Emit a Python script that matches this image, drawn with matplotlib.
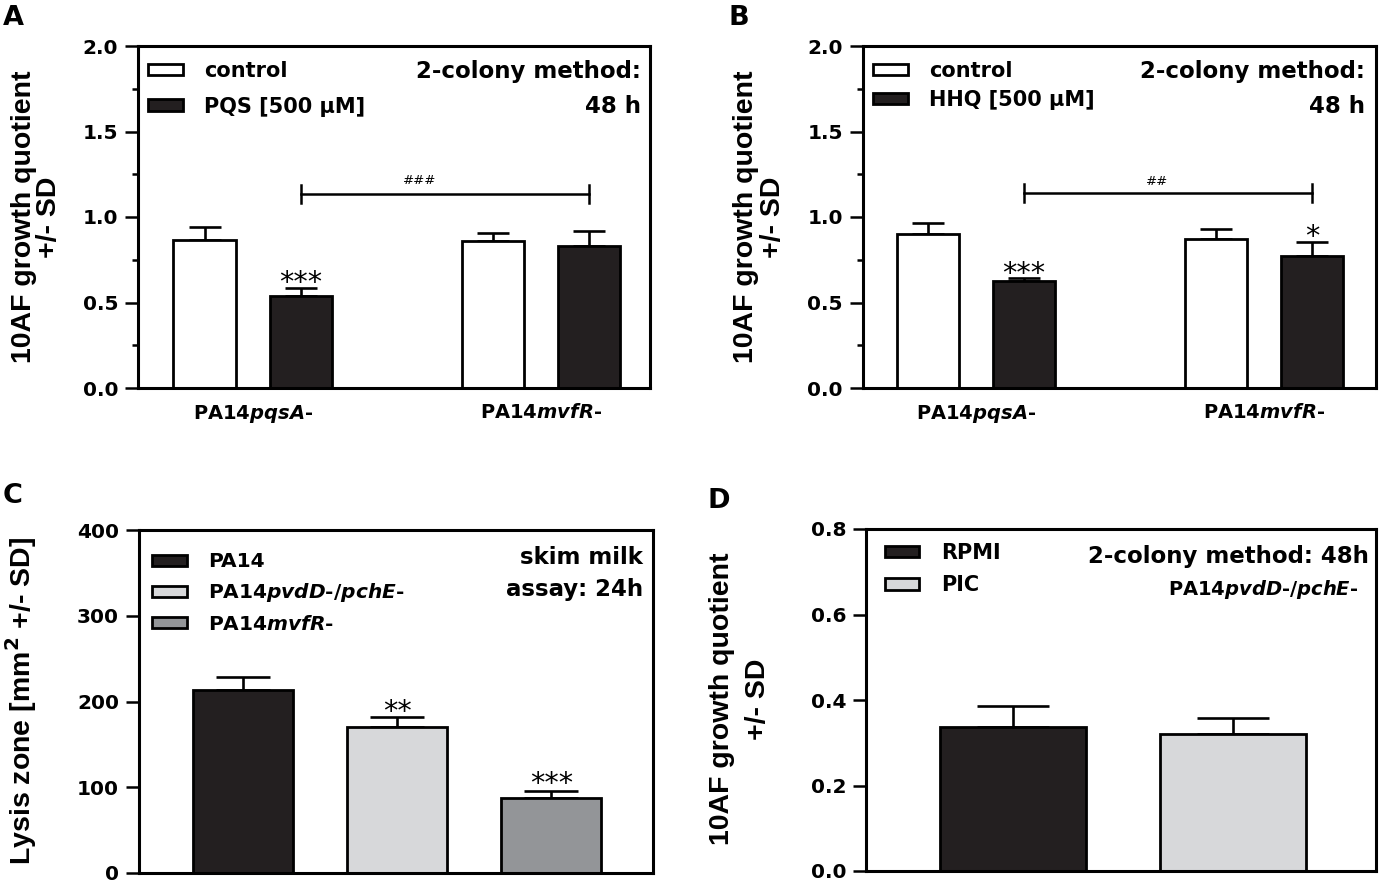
import numpy as np
import matplotlib
matplotlib.use("Agg")
import matplotlib.pyplot as plt
from matplotlib.patches import Patch
from matplotlib.ticker import MultipleLocator, FormatStrFormatter

# --- data ---
ab_groups = ["PA14$\\mathit{pqsA}$-", "PA14$\\mathit{mvfR}$-"]

a_control = [0.865, 0.860]
a_control_sd = [0.075, 0.048]
a_pqs = [0.538, 0.833]
a_pqs_sd = [0.049, 0.083]

b_control = [0.899, 0.871]
b_control_sd = [0.064, 0.059]
b_hhq = [0.627, 0.774]
b_hhq_sd = [0.014, 0.080]

c_strains = ["PA14", "PA14$\\mathit{pvdD}$-/$\\mathit{pchE}$-", "PA14$\\mathit{mvfR}$-"]
c_lysis = [213.5, 170.0, 87.2]
c_lysis_sd = [14.5, 12.4, 8.8]

d_media = ["RPMI", "PIC"]
d_quot = [0.336, 0.320]
d_quot_sd = [0.050, 0.037]

BLACK = "#231f20"
LIGHT = "#d7d8da"
DARK = "#939598"

plt.rcParams.update({
    "font.family": ["DejaVu Sans"],
    "font.weight": "bold",
    "mathtext.fontset": "custom",
    "mathtext.rm": "DejaVu Sans:bold",
    "mathtext.bf": "DejaVu Sans:bold",
    "mathtext.it": "DejaVu Sans:italic:bold",
    "axes.linewidth": 2.2,
})

W, H = 1382, 883
fig = plt.figure(figsize=(W / 100, H / 100), dpi=100)


def P(x, y):
    return x / W, 1 - y / H


def make_axes(l, r, t, b):
    ax = fig.add_axes([l / W, 1 - b / H, (r - l) / W, (b - t) / H])
    ax.tick_params(axis="y", which="major", length=9.4, width=1.8, pad=5, labelsize=14.5)
    ax.tick_params(axis="y", which="minor", length=4.3, width=1.8)
    ax.tick_params(axis="x", length=0)
    return ax


def ylabel(lines, xs, yc):
    for s, x in zip(lines, xs):
        fig.text(*P(x, yc), s, rotation=90, rotation_mode="anchor", ha="center",
                 va="baseline", family="Liberation Sans", weight="bold", size=20.5)


def stars(ax, x, top, s):
    ax.annotate(s, xy=(x, top), xytext=(0, -2.5), textcoords="offset points",
                ha="center", va="baseline", fontsize=20.5, fontweight="normal")


def bracket(ax, x0, x1, y, dlo, dhi, label, lx, ly):
    ax.plot([x0, x1], [y, y], color="k", lw=1.8)
    for xx in (x0, x1):
        ax.plot([xx, xx], [y - dlo, y + dhi], color="k", lw=1.8)
    ax.text(lx, ly, label, ha="center", va="center", fontsize=9.5, fontweight="normal")


def legend(ax, colors, labels, x, y, size, hl, spacing, pad):
    handles = [Patch(facecolor=c, edgecolor="k", linewidth=2) for c in colors]
    ax.legend(handles, labels, loc="upper left", bbox_to_anchor=(x, y), frameon=False,
              handlelength=hl, handleheight=0.48, handletextpad=pad, labelspacing=spacing,
              borderaxespad=0, borderpad=0, prop={"size": size, "weight": "bold"})


def grouped(ax, ctrl, ctrl_sd, treat, treat_sd):
    x = np.arange(len(ctrl))
    off, w = 0.167, 0.217
    ax.bar(x - off, ctrl, w, color="white", edgecolor="k", linewidth=2, zorder=2)
    ax.bar(x + off, treat, w, color=BLACK, edgecolor="k", linewidth=2, zorder=2)
    for xs, m, sd in ((x - off, ctrl, ctrl_sd), (x + off, treat, treat_sd)):
        ax.errorbar(xs, m, yerr=[np.zeros(len(m)), sd], fmt="none", ecolor="k",
                    elinewidth=1.9, capsize=11.5, capthick=1.9, zorder=1)
    ax.set_ylim(0, 2.0)
    ax.yaxis.set_major_locator(MultipleLocator(0.5))
    ax.yaxis.set_minor_locator(MultipleLocator(0.25))
    ax.yaxis.set_major_formatter(FormatStrFormatter("%.1f"))
    ax.set_xticks(x)
    ax.set_xticklabels(ab_groups, fontsize=14)
    ax.tick_params(axis="x", pad=11)
    return x, off


# ---------------- A ----------------
axA = make_axes(138, 650, 46, 388)
axA.set_xlim(-0.398, 1.378)
x, off = grouped(axA, a_control, a_control_sd, a_pqs, a_pqs_sd)
stars(axA, x[0] + off, a_pqs[0] + a_pqs_sd[0], "***")
bracket(axA, x[0] + off, x[1] + off, 1.134, 0.054, 0.053, "###", 0.578, 1.216)
legend(axA, ["white", BLACK], ["control", "PQS [500 µM]"], 0.0195, 0.956, 15, 1.7, 0.745, 1.0)
fig.text(*P(641, 78), "2-colony method:", ha="right", va="baseline", size=16.5)
fig.text(*P(641, 113), "48 h", ha="right", va="baseline", size=16.5)
ylabel(["10AF growth quotient", "+/- SD"], [31, 56], 217)
fig.text(*P(3, 25), "A", ha="left", va="baseline", size=19.5)

# ---------------- B ----------------
axB = make_axes(863, 1376, 46, 388)
axB.set_xlim(-0.392, 1.389)
x, off = grouped(axB, b_control, b_control_sd, b_hhq, b_hhq_sd)
stars(axB, x[0] + off, b_hhq[0] + b_hhq_sd[0], "***")
stars(axB, x[1] + off, b_hhq[1] + b_hhq_sd[1], "*")
bracket(axB, x[0] + off, x[1] + off, 1.139, 0.054, 0.053, "##", 0.628, 1.21)
legend(axB, ["white", BLACK], ["control", "HHQ [500 µM]"], 0.0195, 0.956, 15, 1.7, 0.43, 1.0)
fig.text(*P(1365, 78), "2-colony method:", ha="right", va="baseline", size=16.5)
fig.text(*P(1365, 113), "48 h", ha="right", va="baseline", size=16.5)
ylabel(["10AF growth quotient", "+/- SD"], [753, 780], 217)
fig.text(*P(728, 25), "B", ha="left", va="baseline", size=19.5)

# ---------------- C ----------------
axC = make_axes(139, 653, 530, 873)
xc = np.arange(len(c_lysis))
axC.bar(xc, c_lysis, 0.65, color=[BLACK, LIGHT, DARK], edgecolor="k", linewidth=2, zorder=2)
axC.errorbar(xc, c_lysis, yerr=[np.zeros(3), c_lysis_sd], fmt="none", ecolor="k",
             elinewidth=1.9, capsize=19.5, capthick=1.9, zorder=1)
axC.set_xlim(-0.675, 2.66)
axC.set_ylim(0, 400)
axC.yaxis.set_major_locator(MultipleLocator(100))
axC.set_xticks([])
stars(axC, xc[1], c_lysis[1] + c_lysis_sd[1], "**")
stars(axC, xc[2], c_lysis[2] + c_lysis_sd[2] + 3, "***")
legend(axC, [BLACK, LIGHT, DARK], c_strains, 0.025, 0.935, 14.5, 1.74, 0.505, 1.04)
fig.text(*P(643, 564), "skim milk", ha="right", va="baseline", size=16.5)
fig.text(*P(643, 596), "assay: 24h", ha="right", va="baseline", size=16.5)
ylabel(["Lysis zone [mm$^2$ +/- SD]"], [31], 701)
fig.text(*P(3, 503), "C", ha="left", va="baseline", size=19.5)

# ---------------- D ----------------
axD = make_axes(866, 1376, 529, 871)
xd = np.arange(len(d_quot))
axD.bar(xd, d_quot, 0.66, color=[BLACK, LIGHT], edgecolor="k", linewidth=2, zorder=2)
axD.errorbar(xd, d_quot, yerr=[np.zeros(2), d_quot_sd], fmt="none", ecolor="k",
             elinewidth=1.9, capsize=26, capthick=1.9, zorder=1)
axD.set_xlim(-0.668, 1.65)
axD.set_ylim(0, 0.8)
axD.yaxis.set_major_locator(MultipleLocator(0.2))
axD.yaxis.set_major_formatter(FormatStrFormatter("%.1f"))
axD.set_xticks([])
legend(axD, [BLACK, LIGHT], d_media, 0.037, 0.959, 15, 1.66, 0.58, 1.06)
fig.text(*P(1369, 563), "2-colony method: 48h", ha="right", va="baseline", size=16.5)
fig.text(*P(1358, 595), "PA14$\\mathit{pvdD}$-/$\\mathit{pchE}$-", ha="right", va="baseline", size=14)
ylabel(["10AF growth quotient", "+/- SD"], [729, 765], 699)
fig.text(*P(707, 508), "D", ha="left", va="baseline", size=19.5)

fig.savefig("out.png", dpi=100)
